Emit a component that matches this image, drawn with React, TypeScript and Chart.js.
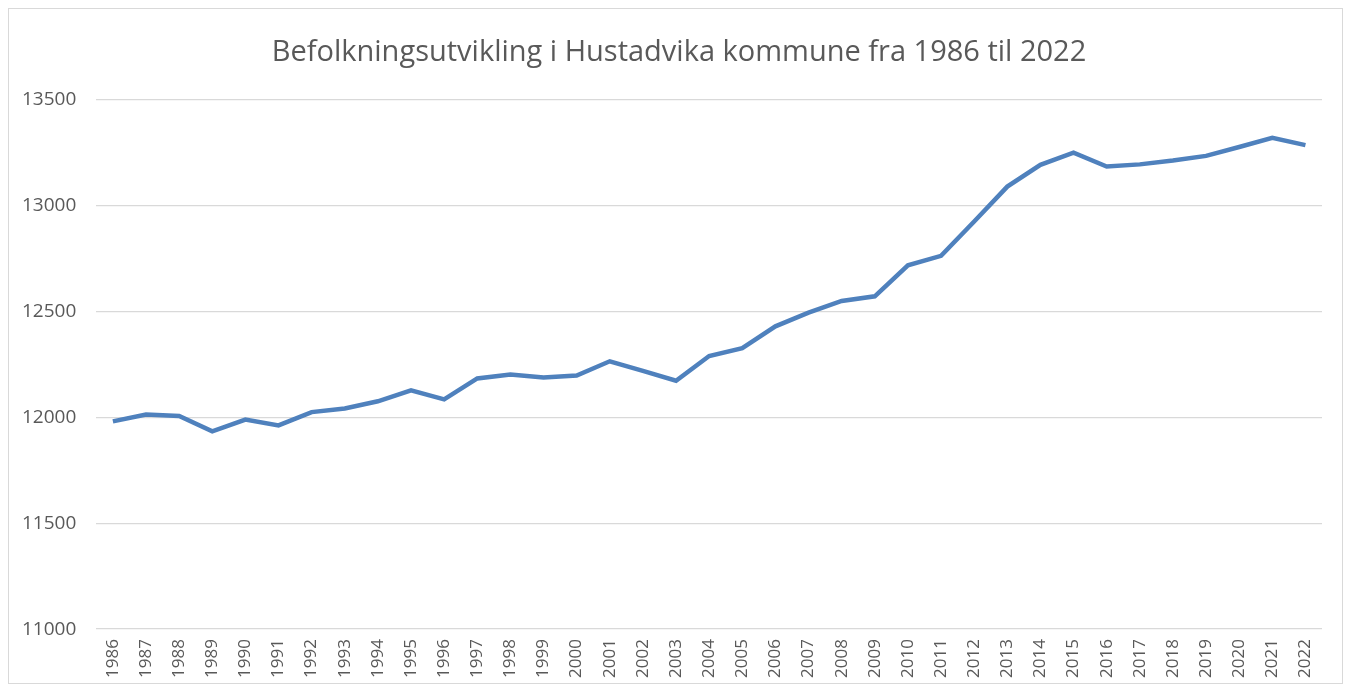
import React, { useEffect, useRef } from "react";
import { Chart, registerables } from "chart.js";

Chart.register(...registerables);

const years: string[] = [
  "1986", "1987", "1988", "1989", "1990", "1991", "1992", "1993", "1994", "1995",
  "1996", "1997", "1998", "1999", "2000", "2001", "2002", "2003", "2004", "2005",
  "2006", "2007", "2008", "2009", "2010", "2011", "2012", "2013", "2014", "2015",
  "2016", "2017", "2018", "2019", "2020", "2021", "2022",
];

const population: number[] = [
  11981, 12014, 12007, 11934, 11990, 11962, 12025, 12042, 12076, 12128,
  12085, 12184, 12203, 12189, 12198, 12265, 12220, 12173, 12290, 12327,
  12430, 12495, 12550, 12572, 12718, 12763, 12925, 13090, 13193, 13250,
  13185, 13195, 13213, 13235, 13277, 13320, 13286,
];

const titleText = "Befolkningsutvikling i Hustadvika kommune fra 1986 til 2022";
const yMin = 11000;
const yMax = 13500;
const yStep = 500;

const titleShift = {
  id: "titleShift",
  afterLayout(chart: any) {
    const t = chart.titleBlock;
    if (t) {
      t.left += 17;
      t.right += 17;
    }
  },
};

export default function App() {
  const ref = useRef<HTMLCanvasElement | null>(null);
  useEffect(() => {
    if (!ref.current) return;
    const chart = new Chart(ref.current, {
      type: "line",
      data: {
        labels: years,
        datasets: [
          {
            data: population,
            borderColor: "#4f81bd",
            borderWidth: 4.5,
            pointRadius: 0,
            tension: 0,
            fill: false,
          },
        ],
      },
      plugins: [titleShift],
      options: {
        animation: false,
        responsive: true,
        maintainAspectRatio: false,
        layout: { padding: { left: -7, right: 20, top: 14, bottom: 3 } },
        plugins: {
          legend: { display: false },
          tooltip: { enabled: false },
          title: {
            display: true,
            text: titleText,
            color: "#595959",
            font: { family: "'Open Sans', sans-serif", size: 29, weight: "normal" },
            padding: { top: 12, bottom: 30 },
          },
        },
        scales: {
          x: {
            offset: true,
            grid: { display: false },
            border: { display: false },
            ticks: {
              color: "#595959",
              font: { family: "'Open Sans', sans-serif", size: 17 },
              maxRotation: 90,
              minRotation: 90,
              autoSkip: false,
              padding: 2,
            },
          },
          y: {
            min: yMin,
            max: yMax,
            grid: { color: "#d9d9d9", lineWidth: 1.3, drawTicks: false },
            border: { display: false },
            ticks: {
              stepSize: yStep,
              color: "#595959",
              font: { family: "'Open Sans', sans-serif", size: 19 },
              padding: 20,
              callback: (v: any) => String(v),
            },
          },
        },
      },
    });
    return () => chart.destroy();
  }, []);
  return (
    <div
      style={{
        width: 1335,
        height: 676,
        border: "1px solid #d9d9d9",
        boxSizing: "border-box",
        background: "#fff",
      }}
    >
      <canvas ref={ref} />
    </div>
  );
}
